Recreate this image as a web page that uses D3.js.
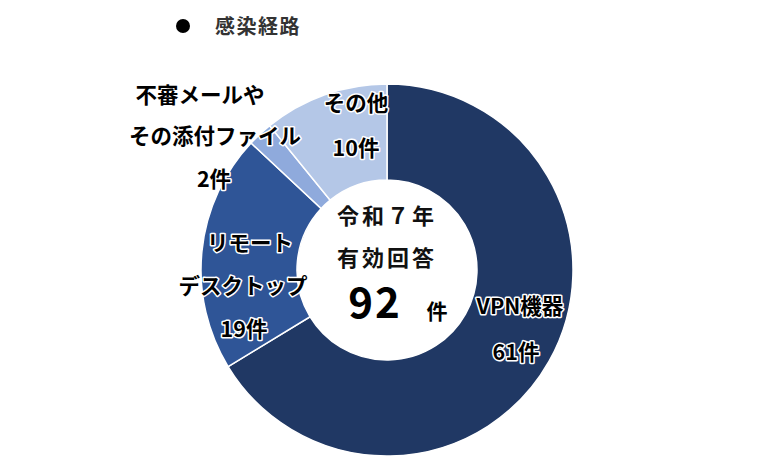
<!DOCTYPE html>
<html><head><meta charset="utf-8">
<script src="https://cdn.jsdelivr.net/npm/d3@7"></script>
<style>
html,body{margin:0;padding:0;background:#fff;}
svg text{font-family:"Noto Sans CJK JP","Noto Sans",sans-serif;font-weight:700;}
.halo{paint-order:stroke;stroke:#fff;stroke-width:3px;stroke-linejoin:round;}
</style>
</head><body>
<svg id="c" width="762" height="472"></svg>
<script>
const categories = ["VPN機器", "リモートデスクトップ", "不審メールやその添付ファイル", "その他"];
const values = [61, 19, 2, 10];
const colors = ["#203864", "#2F5597", "#8FAADC", "#B4C7E7"];
const labelLines = [["VPN機器", "61件"], ["リモート", "デスクトップ", "19件"], ["不審メールや", "その添付ファイル", "2件"], ["その他", "10件"]];
const legendTitle = "感染経路";
const centerLines = ["令和７年", "有効回答"];
const total = 92;

const svg = d3.select("#c");
const cx = 387, cy = 270, R = 186, r = 90;
const g = svg.append("g").attr("transform", `translate(${cx},${cy})`);
const pie = d3.pie().sort(null).value(d => d)(values);
const arc = d3.arc().innerRadius(r).outerRadius(R);
g.selectAll("path").data(pie).join("path")
  .attr("d", arc).attr("fill", (d, i) => colors[i])
  .attr("stroke", "#fff").attr("stroke-width", 1.5);

// legend
svg.append("circle").attr("cx", 183).attr("cy", 26).attr("r", 7).attr("fill", "#000");
svg.append("text").attr("x", 215).attr("y", 34).attr("font-size", 20).attr("letter-spacing", 1.5).attr("fill", "#333").text(legendTitle);

// slice labels
const labelPos = [
  [[520, 314], [516, 360]],
  [[250, 251], [243, 294], [244, 337]],
  [[200, 103], [215, 144], [214, 187]],
  [[356, 111], [356, 156]]
];
labelLines.forEach((lines, i) => {
  lines.forEach((t, j) => {
    svg.append("text").attr("class", "halo")
      .attr("x", labelPos[i][j][0]).attr("y", labelPos[i][j][1])
      .attr("text-anchor", "middle").attr("font-size", 21.5).attr("fill", "#000")
      .text(t);
  });
});

// center text
svg.append("text").attr("x", 387).attr("y", 224).attr("text-anchor", "middle")
  .attr("font-size", 22).attr("letter-spacing", 3).attr("fill", "#111").text(centerLines[0]);
svg.append("text").attr("x", 387).attr("y", 266).attr("text-anchor", "middle")
  .attr("font-size", 22).attr("letter-spacing", 3).attr("fill", "#111").text(centerLines[1]);
svg.append("text").attr("x", 375).attr("y", 318).attr("text-anchor", "middle")
  .attr("font-size", 42).attr("letter-spacing", 2).attr("fill", "#000").text(String(total));
svg.append("text").attr("x", 437).attr("y", 319).attr("text-anchor", "middle")
  .attr("font-size", 21).attr("fill", "#000").text("件");
</script>
</body></html>
